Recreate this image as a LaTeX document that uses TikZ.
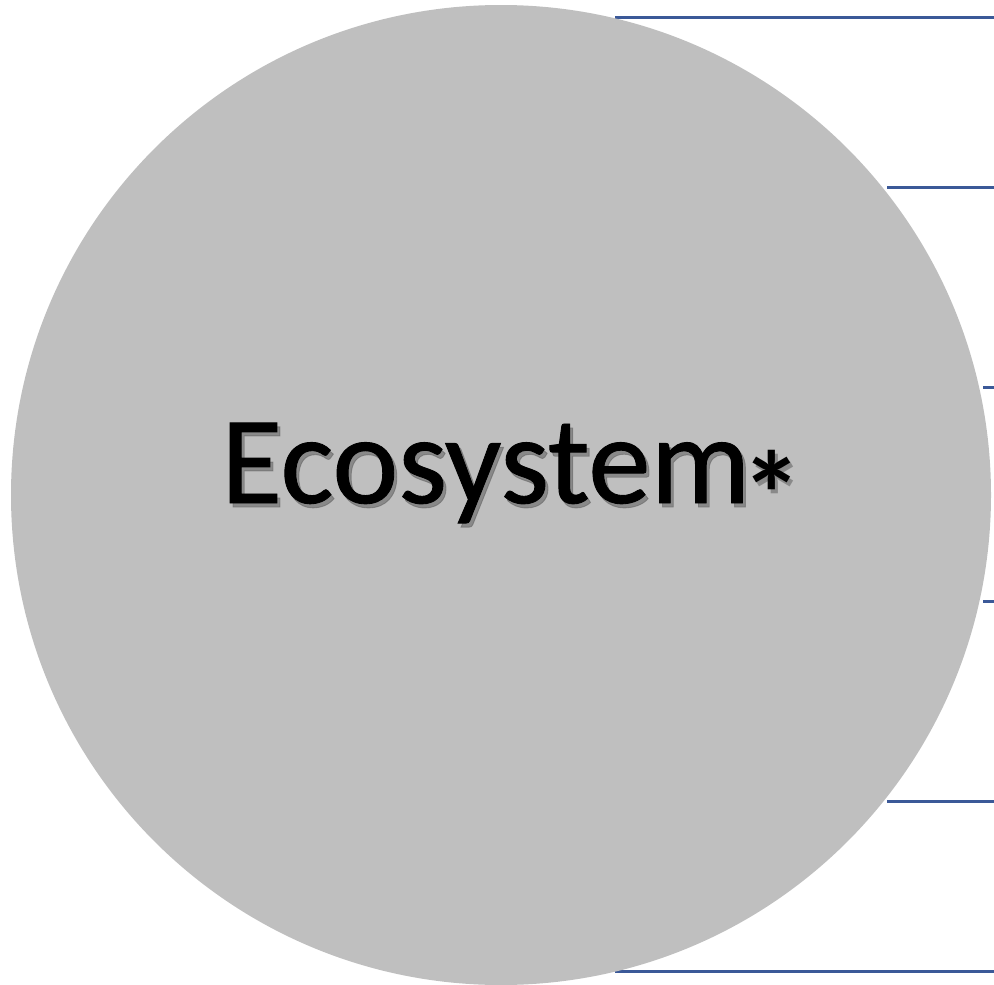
\documentclass[tikz,border=0pt]{standalone}
\usepackage{fontspec}
\newfontfamily\ecofont{Carlito}
\definecolor{ecogray}{RGB}{191,191,191}
\definecolor{ecoblue}{RGB}{59,89,152}
\newcommand{\heavy}[1]{\special{pdf:code 2 Tr 0.9 w}#1\special{pdf:code 0 Tr}}
\newcommand{\ecostar}{\hspace{-9pt}\raisebox{-34pt}{\bfseries\fontsize{122}{122}\selectfont *}}
\tikzset{
  link/.style={draw=ecoblue, line width=3pt},
  bigtext/.style={font=\ecofont\fontsize{125}{125}\selectfont, inner sep=0pt}
}
\begin{document}
\begin{tikzpicture}[x=1pt,y=-1pt]
  \useasboundingbox (0,0) rectangle (994,985);
  \foreach \sx/\ly [count=\i] in {615/17, 887/187, 983/387, 983/601, 887/801, 615/971} {
    \coordinate (s\i) at (\sx,\ly);
    \coordinate (e\i) at (994,\ly);
    \draw[link] (s\i) -- (e\i);
  }
  \node[circle, fill=ecogray, minimum size=980pt, inner sep=0pt] (eco) at (501,495) {};
  % shadow first, then the text itself
  \node[bigtext, text=black!60, opacity=0.6, anchor=base west] (ecoshadow) at (224,507) {\heavy{Ecosystem}\ecostar};
  \node[bigtext, anchor=base west] (ecotext) at (221,503) {\heavy{Ecosystem}\ecostar};
\end{tikzpicture}
\end{document}
